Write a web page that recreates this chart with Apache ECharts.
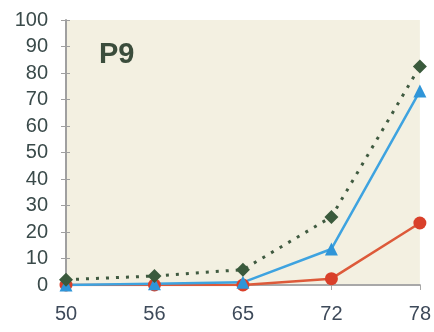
<!DOCTYPE html>
<html><head><meta charset="utf-8">
<script src="https://cdn.jsdelivr.net/npm/echarts@6/dist/echarts.min.js"></script>
<style>html,body{margin:0;padding:0;background:#fff}#c{width:434px;height:332px}</style>
</head><body><div id="c"></div>
<script>
var categories = ['50', '56', '65', '72', '78'];
var greenValues = [2, 3.4, 5.8, 25.7, 82.5];
var blueValues = [0, 0.5, 1, 13.6, 73.2];
var redValues = [0, 0, 0, 2.4, 23.4];
var yTicks = [0, 10, 20, 30, 40, 50, 60, 70, 80, 90, 100];

var chart = echarts.init(document.getElementById('c'));
var font = '"Liberation Sans", Arial, sans-serif';
chart.setOption({
  animation: false,
  backgroundColor: '#ffffff',
  grid: {left: 66, right: 13, top: 20, bottom: 47, show: true, backgroundColor: '#f3f0e1', borderWidth: 0},
  title: {text: 'P9', left: 94, top: 35, textStyle: {fontFamily: font, fontSize: 29, fontWeight: 'bold', color: '#3b4d3c'}},
  xAxis: {
    type: 'category', data: categories, boundaryGap: false,
    axisLine: {lineStyle: {color: '#a8a8a8', width: 2}},
    axisTick: {show: true, alignWithLabel: true, length: 5, lineStyle: {color: '#a8a8a8'}},
    axisLabel: {fontFamily: font, fontSize: 20, color: '#3e4a5a', margin: 19}
  },
  yAxis: [{
    type: 'value', min: yTicks[0], max: yTicks[yTicks.length - 1], interval: 10,
    splitLine: {show: false},
    axisLine: {show: true, lineStyle: {color: '#a0a0a0', width: 2}},
    axisTick: {show: true, length: 5, lineStyle: {color: '#a0a0a0'}},
    axisLabel: {fontFamily: font, fontSize: 20, color: '#3a4a4a', margin: 18}
  }, {
    type: 'value', position: 'left', min: yTicks[0], max: yTicks[yTicks.length - 1], interval: 10,
    splitLine: {show: false}, axisLabel: {show: false},
    axisLine: {show: false},
    axisTick: {show: true, inside: true, length: 4, lineStyle: {color: '#a0a0a0'}}
  }],
  series: [{
    name: 'red', type: 'line', data: redValues,
    symbol: 'circle', symbolSize: 13,
    lineStyle: {color: '#dd5a3a', width: 2.5}, itemStyle: {color: '#d9402a'}
  }, {
    name: 'blue', type: 'line', data: blueValues,
    symbol: 'triangle', symbolSize: 13,
    lineStyle: {color: '#3ea3e0', width: 2.5}, itemStyle: {color: '#2f95d8'}
  }, {
    name: 'green', type: 'line', data: greenValues,
    symbol: 'diamond', symbolSize: 14,
    lineStyle: {color: '#3f5a40', width: 3, type: [3, 7]}, itemStyle: {color: '#3a5a3c'}
  }]
});
</script></body></html>
